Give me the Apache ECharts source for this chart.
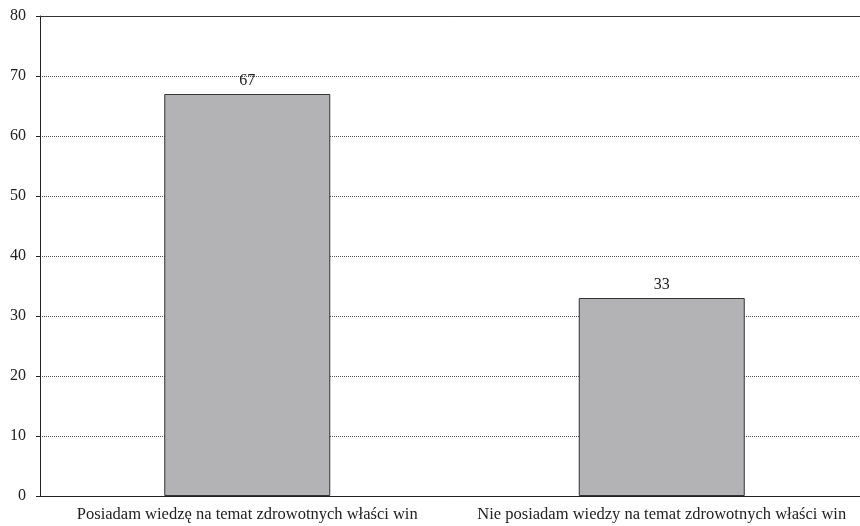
<!DOCTYPE html>
<html>
<head>
<meta charset="utf-8">
<script src="https://cdn.jsdelivr.net/npm/echarts@6/dist/echarts.min.js"></script>
<style>
html, body { margin: 0; padding: 0; background: #fff; }
#chart { width: 860px; height: 526px; }
</style>
</head>
<body>
<div id="chart"></div>
<script>
// Answers: knowledge about health properties of wine (%)
const categories = [
  'Posiadam wiedzę na temat zdrowotnych właści win',
  'Nie posiadam wiedzy na temat zdrowotnych właści win'
];
const values = [67, 33];
const yTicks = { min: 0, max: 80, interval: 10 };

const serif = '"Liberation Serif", "DejaVu Serif", serif';

const chart = echarts.init(document.getElementById('chart'), null, { renderer: 'canvas' });
chart.setOption({
  animation: false,
  backgroundColor: '#ffffff',
  // plot runs slightly past the right edge of the canvas
  grid: {
    left: 40, top: 16, width: 829, height: 480,
    containLabel: false,
    outerBoundsMode: 'none'
  },
  xAxis: [
    {
      type: 'category',
      data: categories,
      axisLine: { show: true, lineStyle: { color: '#222', width: 1 } },
      axisTick: { show: false },
      axisLabel: { color: '#222', fontFamily: serif, fontSize: 16.5, margin: 10, interval: 0 },
      splitLine: { show: false }
    },
    {
      type: 'category',
      data: categories,
      position: 'top',
      axisLine: { show: true, lineStyle: { color: '#333', width: 1 } },
      axisTick: { show: false },
      axisLabel: { show: false }
    }
  ],
  yAxis: {
    type: 'value',
    min: yTicks.min,
    max: yTicks.max,
    interval: yTicks.interval,
    axisLine: { show: true, lineStyle: { color: '#222', width: 1 } },
    axisTick: { show: true, length: 4, lineStyle: { color: '#222' } },
    axisLabel: { color: '#222', fontFamily: serif, fontSize: 16, margin: 14 },
    splitLine: { show: true, lineStyle: { color: '#555', width: 1, type: [1, 1] } }
  },
  series: [{
    type: 'bar',
    data: values,
    barWidth: 166,
    itemStyle: { color: '#b3b3b6', borderColor: '#333', borderWidth: 1 },
    label: {
      show: true,
      position: 'top',
      distance: 5,
      color: '#222',
      fontFamily: serif,
      fontSize: 16
    }
  }]
});
</script>
</body>
</html>
